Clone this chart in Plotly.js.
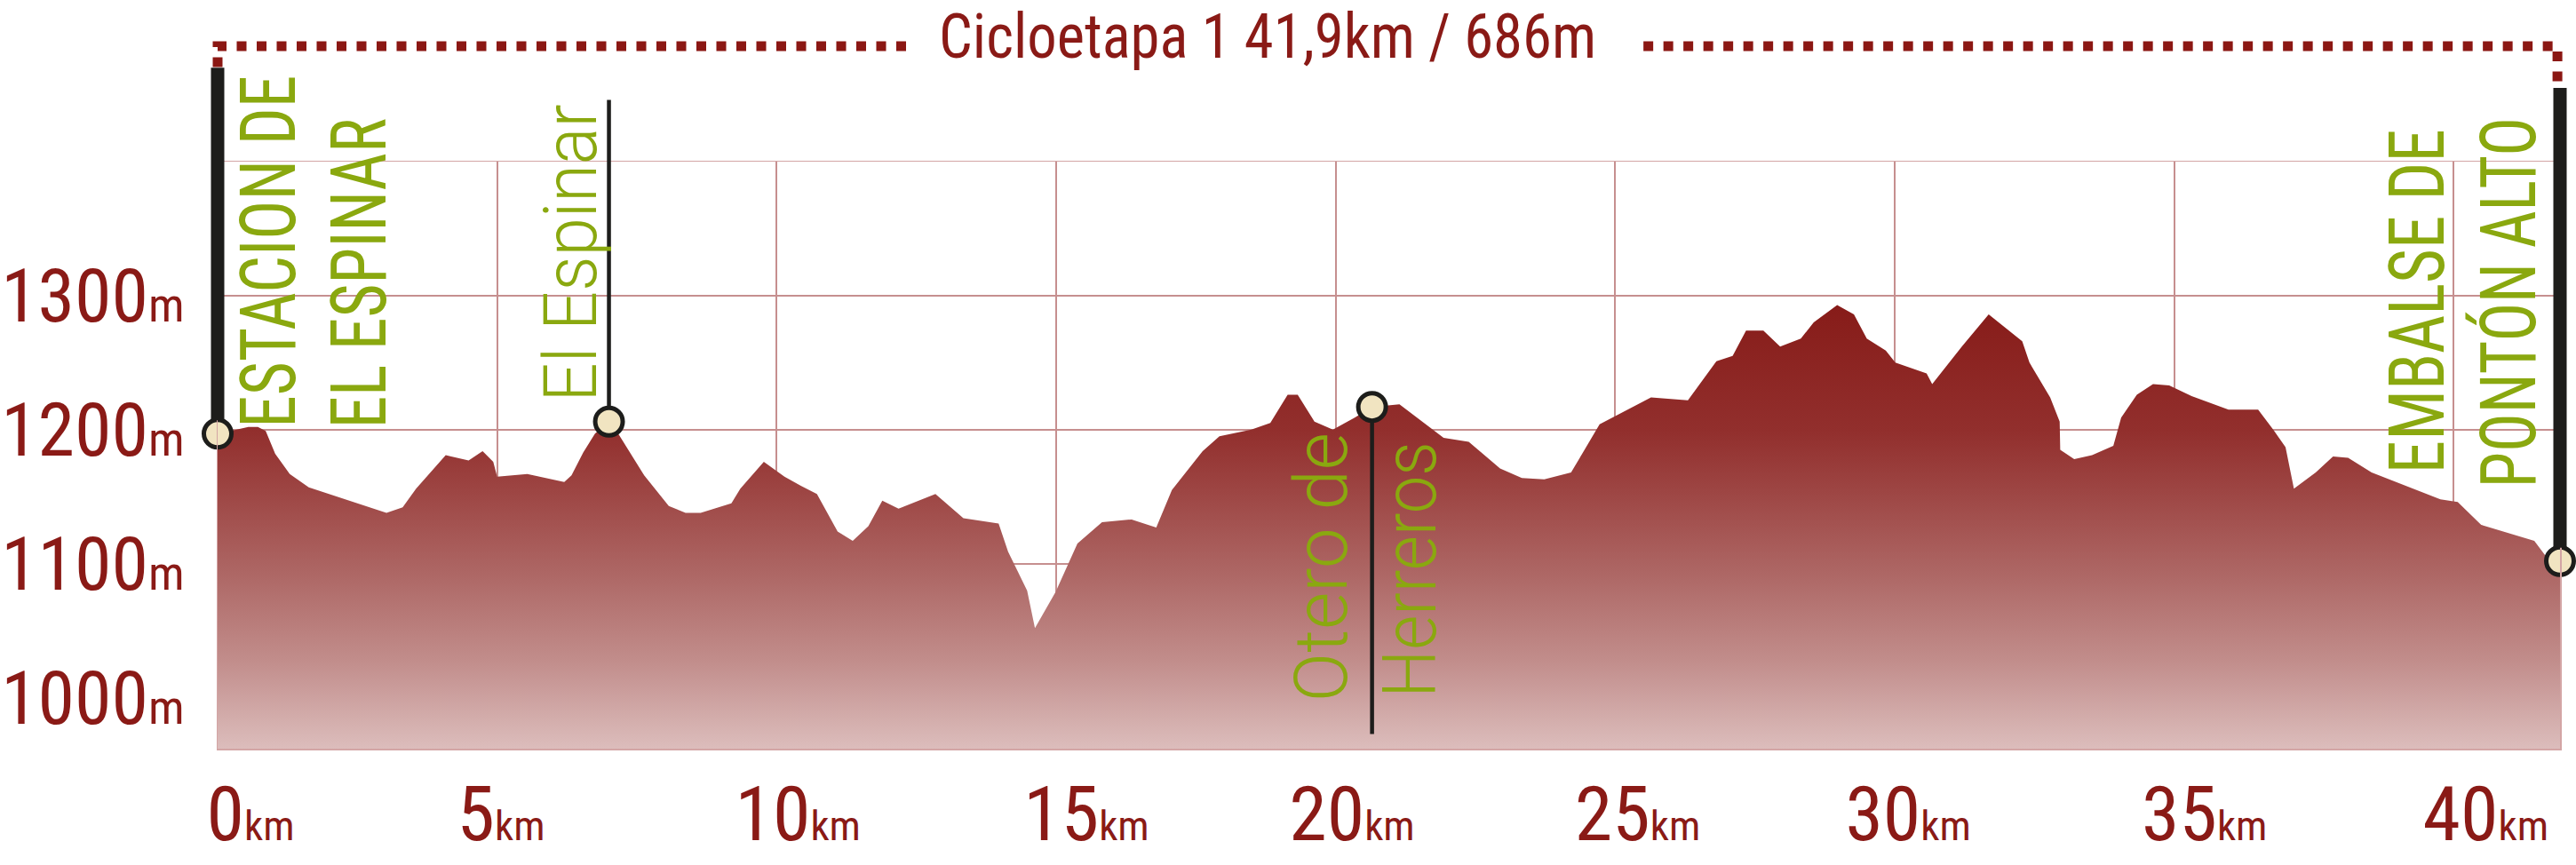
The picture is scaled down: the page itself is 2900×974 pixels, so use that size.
<!DOCTYPE html>
<html><head><meta charset="utf-8">
<script src="https://cdn.plot.ly/plotly-3.0.1.min.js"></script>
<style>html,body{margin:0;padding:0;background:#fff;}#chart{width:2900px;height:974px;}</style>
</head><body><div id="chart"></div>
<script>
const distanceKm = [0.00,0.55,0.72,0.86,1.03,1.29,1.63,1.93,3.02,3.31,3.55,4.08,4.49,4.74,4.93,5.00,5.54,6.20,6.33,6.54,6.75,7.00,7.18,7.63,8.07,8.37,8.64,9.19,9.35,9.77,10.14,10.44,10.72,11.09,11.36,11.64,11.89,12.18,12.84,13.34,13.97,14.14,14.48,14.62,14.99,15.38,15.82,16.35,16.79,17.07,17.62,17.92,18.49,18.83,19.14,19.32,19.62,19.95,20.34,20.65,21.14,21.93,22.38,22.94,23.33,23.73,24.21,24.72,25.00,25.64,26.30,26.81,27.10,27.34,27.65,27.95,28.32,28.55,28.97,29.27,29.50,29.84,30.01,30.57,30.67,31.20,31.68,32.28,32.41,32.78,32.95,32.96,33.21,33.53,33.91,34.05,34.33,34.62,34.91,35.31,35.97,36.50,36.77,36.99,37.14,37.53,37.84,38.11,38.53,39.76,40.07,40.49,41.44,41.64,41.90];
const elevationM = [1197,1202,1202,1199,1182,1167,1157,1153,1138,1142,1156,1181,1177,1184,1176,1165,1167,1161,1166,1183,1197,1206,1196,1166,1143,1138,1138,1145,1156,1176,1165,1158,1152,1124,1117,1128,1147,1141,1152,1134,1130,1109,1080,1052,1079,1115,1131,1133,1127,1155,1184,1195,1200,1205,1226,1226,1206,1200,1209,1217,1219,1194,1191,1171,1164,1163,1168,1204,1210,1224,1222,1251,1255,1274,1274,1262,1268,1280,1293,1286,1268,1259,1250,1242,1234,1262,1286,1266,1250,1224,1206,1185,1178,1181,1188,1209,1226,1234,1233,1225,1215,1215,1200,1187,1156,1168,1180,1179,1168,1148,1146,1129,1117,1106,1102];

// stations (marker on the profile + pole)
const stationKm = [0, 7.0, 20.65, 41.9];
const stationElev = [1197, 1206, 1217, 1102];
const poleEndElev = [1471, 1447, 972, 1456];
const poleWidth = [15, 4.5, 4.5, 15];

// vertical place labels
const labelText = ["ESTACION DE", "EL ESPINAR", "El Espinar", "Otero de", "Herreros", "EMBALSE DE", "PONTÓN ALTO"];
const labelKm   = [0.92, 2.53, 6.32, 19.73, 21.33, 39.34, 40.98];
const labelElev = [1332.8, 1316.9, 1331.5, 1097.7, 1095.4, 1296, 1295];
const labelLen  = [397, 349, 335, 303, 288, 388, 417];
const labelBold = [true, true, false, false, false, true, true];

// axes
const xGridKm = [0, 5, 10, 15, 20, 25, 30, 35, 40];
const xLabelKm = [0.59, 5.07, 10.38, 15.54, 20.29, 25.40, 30.24, 35.54, 40.57];
const xTickNums = ["0", "5", "10", "15", "20", "25", "30", "35", "40"];
const yTickVals = [1000, 1100, 1200, 1300, 1400];
const yTickNums = ["1000", "1100", "1200", "1300", ""];

const titleText = "Cicloetapa 1 41,9km / 686m";

// ---- styling ----
const RED = "#8a1a16";
const GREEN = "#8aa80f";
const NARROW = '"Roboto Condensed", "DejaVu Sans Condensed", sans-serif';
const LIGHT = 'Roboto, Lato, sans-serif';
const GRID = "#c68f8f";

const traces = [{
  x: distanceKm, y: elevationM, type: "scatter", mode: "lines",
  line: {width: 0, color: "rgba(0,0,0,0)"},
  fill: "tozeroy",
  fillgradient: {type: "vertical", start: 962, stop: 1300,
    colorscale: [[0, "#dcbdbc"], [0.19, "#c28e8c"], [0.38, "#ae6866"], [0.57, "#9d4543"], [0.7, "#922f2d"], [1, "#861a17"]]},
  hoverinfo: "skip", showlegend: false
}, {
  x: stationKm, y: stationElev, xaxis: "x2", yaxis: "y", type: "scatter", mode: "markers", cliponaxis: false,
  marker: {size: 31, color: "#f1e4c1", line: {color: "#1d1d1b", width: 5}}, hoverinfo: "skip", showlegend: false
}];

const annotations = [];
stationKm.forEach((k, i) => {
  annotations.push({x: k, y: stationElev[i], xref: "x", yref: "y", ax: k, ay: poleEndElev[i], axref: "x", ayref: "y",
    text: "", showarrow: true, arrowhead: 0, arrowwidth: poleWidth[i], arrowcolor: "#1d1d1b", standoff: 15});
});
labelText.forEach((t, i) => {
  annotations.push({
    text: t, x: labelKm[i], y: labelElev[i], xref: "x", yref: "y", showarrow: false,
    textangle: -90, xanchor: "center", yanchor: "middle", borderpad: 0,
    font: labelBold[i] ? {family: NARROW, size: 87, color: GREEN} : {family: LIGHT, size: 84, weight: 300, color: GREEN}
  });
});

const layout = {
  width: 2900, height: 974,
  margin: {l: 245, r: 18, t: 182, b: 131, pad: 0},
  paper_bgcolor: "#fff", plot_bgcolor: "#fff",
  showlegend: false,
  title: {text: titleText, font: {family: NARROW, size: 70, color: RED},
    x: 0.4921, xanchor: "center", xref: "container", y: 0.9589, yanchor: "middle", yref: "container"},
  xaxis: {range: [0, 41.9], tickvals: xGridKm, showticklabels: false,
    ticks: "", showgrid: true, gridcolor: GRID, gridwidth: 2, zeroline: false,
    showline: true, linecolor: "#d3a5a5", linewidth: 1.5, mirror: true},
  xaxis2: {range: [0, 41.9], overlaying: "x", anchor: "y", side: "bottom",
    tickvals: xLabelKm, ticktext: xTickNums.map(n => n + "<span style='font-size:47px'>km</span>"),
    ticks: "", showgrid: false, zeroline: false, showline: false,
    tickfont: {family: NARROW, size: 86, color: RED}, ticklabelstandoff: 16},
  yaxis: {range: [962, 1400], tickvals: yTickVals,
    ticktext: yTickNums.map(n => n ? n + "<span style='font-size:54px'>m</span>" : ""),
    ticks: "", showgrid: true, gridcolor: GRID, gridwidth: 2, zeroline: false,
    showline: true, linecolor: "#d3a5a5", linewidth: 1.5, mirror: true,
    tickfont: {family: NARROW, size: 84, color: RED}, ticklabelstandoff: 19},
  annotations: annotations,
  shapes: [
    {type: "path", xref: "paper", yref: "paper", path: "M 0,1.1271 L 0,1.1967 L 0.2977,1.1967",
     line: {color: "#8b1713", width: 11, dash: "11px,11.5px"}},
    {type: "path", xref: "paper", yref: "paper", path: "M 0.6087,1.1967 L 0.9989,1.1967 L 0.9989,1.1271",
     line: {color: "#8b1713", width: 11, dash: "11px,11.5px"}}
  ]
};
Plotly.newPlot("chart", traces, layout, {displayModeBar: false, staticPlot: true}).then(gd => {
  gd.querySelectorAll(".annotation-text").forEach(t => {
    const i = labelText.indexOf(t.textContent);
    if (i >= 0) { t.setAttribute("textLength", labelLen[i]); t.setAttribute("lengthAdjust", "spacingAndGlyphs"); }
  });
  const tt = gd.querySelector(".gtitle");
  if (tt) { tt.setAttribute("textLength", 740); tt.setAttribute("lengthAdjust", "spacingAndGlyphs"); }
});
</script></body></html>
